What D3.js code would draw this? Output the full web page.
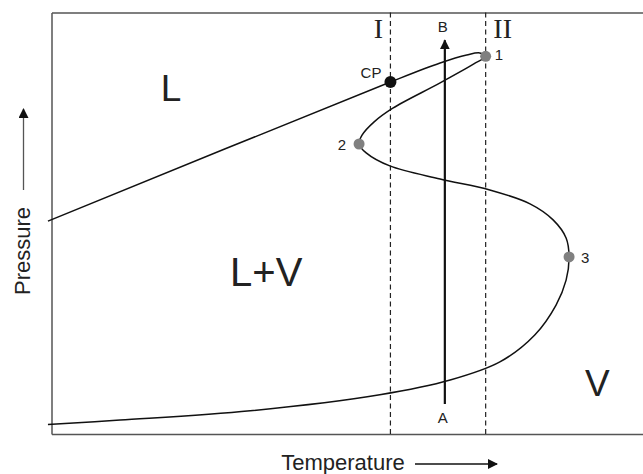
<!DOCTYPE html>
<html>
<head>
<meta charset="utf-8">
<script src="https://cdn.jsdelivr.net/npm/d3@7/dist/d3.min.js"></script>
<style>
  body { margin: 0; background: #fff; }
  text { font-family: "Liberation Sans", Arial, sans-serif; fill: #222; }
</style>
</head>
<body>
<script>
// phase envelope, [temperature, pressure] in arbitrary units (0..100)
var lowerBranch = [
  [-0.6, 2.25], [11.6, 3.3], [33.6, 5.5], [55.5, 9.3], [67.4, 12.8],
  [75.8, 17.1], [81.7, 23.5], [85.3, 30.6], [87.0, 36.5], [87.5, 42.0],
  [87.0, 46.5], [84.8, 50.8], [80.9, 54.6], [74.1, 57.9], [65.7, 60.5],
  [57.2, 63.6], [53.2, 66.7], [52.0, 68.8], [52.5, 70.9], [54.5, 74.0],
  [57.7, 77.3], [65.7, 83.3], [71.4, 87.8], [73.4, 89.6]
];
var upperBranch = [
  [73.4, 89.6], [72.4, 90.4], [70.2, 89.9], [65.7, 88.0], [57.3, 83.5], [-0.6, 50.5]
];

var points = [
  {name: '1', t: 73.4, p: 89.6, fill: '#808080'},
  {name: 'CP', t: 57.3, p: 83.5, fill: '#111'},
  {name: '2', t: 52.0, p: 68.8, fill: '#808080'},
  {name: '3', t: 87.5, p: 42.0, fill: '#808080'}
];

var isotherms = [{name: 'I', t: 57.3}, {name: 'II', t: 73.4}];
var pathAB = {t: 66.5, from: 7.1, to: 93.4};

var regions = [
  {name: 'L', t: 20.2, p: 79},
  {name: 'L+V', t: 36.3, p: 35},
  {name: 'V', t: 92.3, p: 9}
];

var width = 643,
    height = 474;

var x = d3.scaleLinear().domain([0, 100]).range([51.5, 643]);
var y = d3.scaleLinear().domain([0, 100]).range([434, 12.5]);

var svg = d3.select('body').append('svg')
  .attr('width', width)
  .attr('height', height);

var defs = svg.append('defs');
defs.append('marker')
  .attr('id', 'arrow')
  .attr('viewBox', '0 0 10 10')
  .attr('refX', 9)
  .attr('refY', 5)
  .attr('markerWidth', 10)
  .attr('markerHeight', 10)
  .attr('markerUnits', 'userSpaceOnUse')
  .attr('orient', 'auto')
  .append('path')
  .attr('d', 'M0,0 L10,5 L0,10 z')
  .attr('fill', '#111');

// frame: left, top, bottom
var frame = svg.append('g').attr('class', 'frame');
frame.append('g')
  .attr('transform', 'translate(' + x(0) + ',0)')
  .call(d3.axisLeft(y).ticks(0).tickSizeOuter(0));
frame.append('g')
  .attr('transform', 'translate(0,' + y(100) + ')')
  .call(d3.axisTop(x).ticks(0).tickSizeOuter(0));
frame.append('g')
  .attr('transform', 'translate(0,' + y(0) + ')')
  .call(d3.axisBottom(x).ticks(0).tickSizeOuter(0));
frame.selectAll('.domain')
  .attr('stroke', '#555')
  .attr('stroke-width', 1.5);

// isotherms
svg.selectAll('.iso')
  .data(isotherms)
  .enter().append('line')
  .attr('class', 'iso')
  .attr('x1', d => x(d.t))
  .attr('x2', d => x(d.t))
  .attr('y1', y(100))
  .attr('y2', y(0))
  .attr('stroke', '#222')
  .attr('stroke-width', 1.2)
  .attr('stroke-dasharray', '5,3.5');

svg.selectAll('.isolabel')
  .data(isotherms)
  .enter().append('text')
  .attr('class', 'isolabel')
  .attr('x', d => x(d.t) + (d.name == 'I' ? -12 : 17))
  .attr('y', 38)
  .attr('text-anchor', 'middle')
  .style('font-family', '"Liberation Serif", "Times New Roman", serif')
  .style('font-size', '28px')
  .text(d => d.name);

// envelope
var line = d3.line()
  .x(d => x(d[0]))
  .y(d => y(d[1]))
  .curve(d3.curveCatmullRom.alpha(0.5));

svg.append('path')
  .datum(lowerBranch.concat(upperBranch.slice(1)))
  .attr('d', line)
  .attr('fill', 'none')
  .attr('stroke', '#111')
  .attr('stroke-width', 1.5);

// A -> B
svg.append('line')
  .attr('x1', x(pathAB.t))
  .attr('x2', x(pathAB.t))
  .attr('y1', y(pathAB.from))
  .attr('y2', y(pathAB.to))
  .attr('stroke', '#111')
  .attr('stroke-width', 2.2)
  .attr('marker-end', 'url(#arrow)');

svg.append('text')
  .attr('x', x(pathAB.t) - 2)
  .attr('y', y(pathAB.from) + 19)
  .attr('text-anchor', 'middle')
  .style('font-size', '15px')
  .text('A');
svg.append('text')
  .attr('x', x(pathAB.t) - 2)
  .attr('y', 32)
  .attr('text-anchor', 'middle')
  .style('font-size', '15px')
  .text('B');

// marked points
svg.selectAll('.pt')
  .data(points)
  .enter().append('circle')
  .attr('class', 'pt')
  .attr('cx', d => x(d.t))
  .attr('cy', d => y(d.p))
  .attr('r', d => d.name == 'CP' ? 6 : 5.5)
  .attr('fill', d => d.fill);

var labelOffset = {'1': [9, 4, 'start'], 'CP': [-9, -4, 'end'], '2': [-13, 6, 'end'], '3': [12, 6, 'start']};
svg.selectAll('.ptlabel')
  .data(points)
  .enter().append('text')
  .attr('class', 'ptlabel')
  .attr('x', d => x(d.t) + labelOffset[d.name][0])
  .attr('y', d => y(d.p) + labelOffset[d.name][1])
  .attr('text-anchor', d => labelOffset[d.name][2])
  .style('font-size', '15px')
  .text(d => d.name);

// region labels
svg.selectAll('.region')
  .data(regions)
  .enter().append('text')
  .attr('class', 'region')
  .attr('x', d => x(d.t))
  .attr('y', d => y(d.p))
  .attr('text-anchor', 'middle')
  .style('font-size', d => d.name == 'L+V' ? '40px' : '37px')
  .text(d => d.name);

// axis titles with arrows
svg.append('text')
  .attr('x', 343)
  .attr('y', 470)
  .attr('text-anchor', 'middle')
  .style('font-size', '22px')
  .text('Temperature');
svg.append('line')
  .attr('x1', 415).attr('x2', 497)
  .attr('y1', 464).attr('y2', 464)
  .attr('stroke', '#111')
  .attr('stroke-width', 1.3)
  .attr('marker-end', 'url(#arrow)');

svg.append('text')
  .attr('transform', 'translate(30,251) rotate(-90)')
  .attr('text-anchor', 'middle')
  .style('font-size', '22px')
  .text('Pressure');
svg.append('line')
  .attr('x1', 23.5).attr('x2', 23.5)
  .attr('y1', 190).attr('y2', 109)
  .attr('stroke', '#555')
  .attr('stroke-width', 1.3)
  .attr('marker-end', 'url(#arrow)');
</script>
</body>
</html>
